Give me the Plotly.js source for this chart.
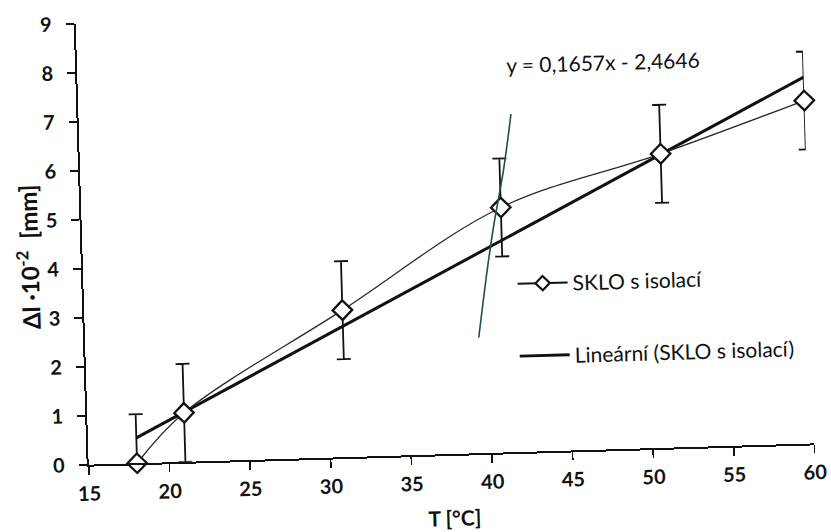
<!DOCTYPE html>
<html>
<head>
<meta charset="utf-8">
<script src="https://cdn.plot.ly/plotly-3.0.1.min.js"></script>
<style>
  html, body { margin: 0; padding: 0; background: #ffffff; overflow: hidden; }
  #chart { width: 831px; height: 532px; transform: rotate(-1.68deg); transform-origin: 50% 50%; }
</style>
</head>
<body>
<div id="chart"></div>
<script>
// Measured elongation of the insulated glass sample vs. temperature
const temps = [18, 21, 31, 41, 51, 60];
const elong = [0, 1, 3, 5, 6, 7];
const elongErr = [1, 1, 1, 1, 1, 1];

// Linear trend fitted to the measurements
const trendSlope = 0.1657;
const trendIntercept = -2.4646;
const trendX = [18, 60];
const trendY = trendX.map(x => trendSlope * x + trendIntercept);

// Hand-drawn pen stroke across the plot
const strokeX = [39.4, 40.08, 40.52, 41.24, 41.8];
const strokeY = [2.36, 3.8, 4.62, 5.77, 6.9];

const xTicks = [15, 20, 25, 30, 35, 40, 45, 50, 55, 60];
const yTicks = [0, 1, 2, 3, 4, 5, 6, 7, 8, 9];

const seriesName = 'SKLO s isolací';
const trendName = 'Lineární (SKLO s isolací)';
const equationText = 'y = 0,1657x - 2,4646';

const FONT = 'Lato, "Open Sans", sans-serif';
const INK = '#111111';
const NB = '\u00a0';

const traces = [
  {
    x: trendX, y: trendY, mode: 'lines', name: trendName,
    line: { color: INK, width: 3 },
    legendgroup: 'b', legendrank: 2, hoverinfo: 'skip'
  },
  {
    x: temps, y: elong, mode: 'markers', showlegend: false,
    marker: { size: 1, opacity: 0 },
    error_y: { type: 'data', array: elongErr, visible: true, color: INK, thickness: 1.8, width: 7 },
    cliponaxis: true, hoverinfo: 'skip'
  },
  {
    x: temps, y: elong, mode: 'lines+markers', name: seriesName, showlegend: false,
    line: { color: '#2a2a2a', width: 1.3, shape: 'spline', smoothing: 1 },
    marker: { symbol: 'diamond', size: 15, color: '#ffffff', line: { color: INK, width: 2.3 } },
    cliponaxis: false, legendgroup: 'a', hoverinfo: 'skip'
  },
  {
    // legend entry for the measured series (smaller symbol in the key)
    x: [null], y: [null], mode: 'lines+markers', name: seriesName,
    line: { color: INK, width: 2 },
    marker: { symbol: 'diamond', size: 11, color: '#ffffff', line: { color: INK, width: 2.2 } },
    legendgroup: 'a', legendrank: 1
  },
  {
    x: strokeX, y: strokeY, mode: 'lines', showlegend: false,
    line: { color: '#1f4d4d', width: 1.6, shape: 'spline' },
    hoverinfo: 'skip'
  }
];

const axisCommon = {
  showline: true, linecolor: INK, linewidth: 2,
  ticks: 'outside', ticklen: 8, tickwidth: 1.6, tickcolor: INK,
  showgrid: false, zeroline: false, mirror: false,
  tickfont: { family: FONT, size: 20, color: INK, weight: 700 }
};

const layout = {
  width: 831, height: 532,
  margin: { l: 83, r: 22, t: 14, b: 77 },
  paper_bgcolor: '#ffffff', plot_bgcolor: '#ffffff',
  showlegend: true,
  xaxis: Object.assign({}, axisCommon, {
    range: [15, 60], tickmode: 'array', tickvals: xTicks, ticktext: xTicks.map(String),
    ticklabelstandoff: 2
  }),
  yaxis: Object.assign({}, axisCommon, {
    range: [0, 9], tickmode: 'array', tickvals: yTicks, ticktext: yTicks.map(String),
    ticklabelstandoff: 10
  }),
  legend: {
    x: 0.591, y: 0.427, xanchor: 'left', yanchor: 'top',
    bgcolor: 'rgba(0,0,0,0)', borderwidth: 0,
    font: { family: FONT, size: 21, color: INK },
    traceorder: 'grouped', tracegroupgap: 42, itemwidth: 50
  },
  annotations: [
    {
      text: equationText, x: 47.6, y: 7.91, xref: 'x', yref: 'y',
      xanchor: 'center', yanchor: 'middle', showarrow: false,
      font: { family: FONT, size: 21, color: INK }
    },
    {
      text: '<b>T [°C]</b>', x: 0.502, y: -0.144, xref: 'paper', yref: 'paper',
      xanchor: 'center', yanchor: 'middle', showarrow: false,
      font: { family: FONT, size: 21, color: INK }
    },
    {
      text: '<b>Δl' + NB + '·10<sup>-2</sup>' + NB + NB + '[mm]</b>',
      x: -0.0758, y: 0.476, xref: 'paper', yref: 'paper',
      xanchor: 'center', yanchor: 'middle', showarrow: false, textangle: -90,
      font: { family: FONT, size: 24, color: INK }
    }
  ]
};

Plotly.newPlot('chart', traces, layout, { displayModeBar: false, staticPlot: true });
</script>
</body>
</html>
